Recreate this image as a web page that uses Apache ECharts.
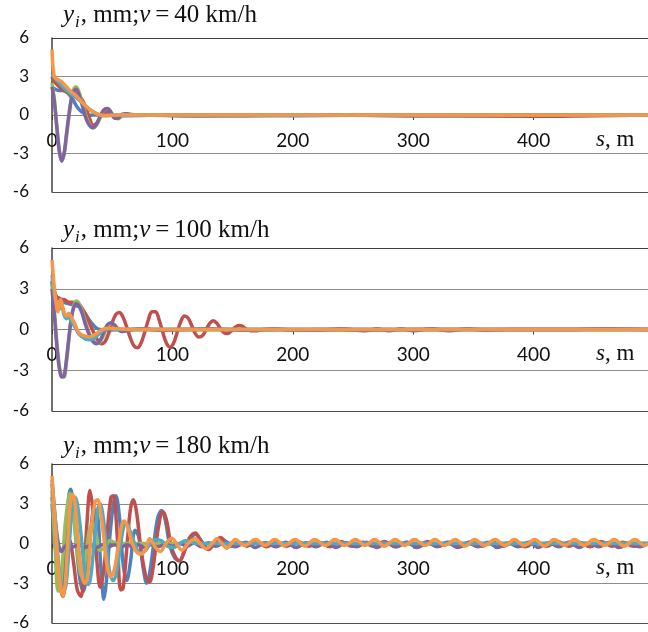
<!DOCTYPE html>
<html>
<head>
<meta charset="utf-8">
<script src="https://cdn.jsdelivr.net/npm/echarts@6/dist/echarts.min.js"></script>
<style>
  html, body { margin: 0; padding: 0; background: #fff; }
  #chart { width: 648px; height: 632px; }
</style>
</head>
<body>
<div id="chart"></div>
<script>
// speeds of the three panels
const speeds = [40, 100, 180];
const yTicks = [-6, -3, 0, 3, 6];

// v = 40 km/h, [s (m), y (mm)]
const blue40 = [[0,2.2],[3,2.0],[6,1.9],[9,1.9],[12,1.8],[15,1.5],[18,1.1],[21,0.6],[24,0.3],[27,0.1],[30,-0.05],[34,0],[40,0],[60,-0.05],[100,0],[200,-0.05],[300,0],[495,0]];
const red40 = [[0,3.0],[2,2.6],[4,2.4],[6,2.2],[8,2.0],[10,1.9],[12,1.8],[14,1.7],[16,1.6],[18,1.7],[20,1.6],[22,1.5],[25,1.2],[28,0.6],[31,-0.2],[34,-0.8],[37,-0.65],[40,-0.2],[43,0.15],[46,0.25],[49,0.1],[52,-0.15],[55,-0.2],[58,-0.05],[62,0.05],[70,0],[120,-0.05],[200,0],[300,-0.05],[400,-0.1],[450,-0.05],[495,0]];
const green40 = [[0,2.5],[2,1.2],[4,-0.8],[6,-2.6],[8,-3.5],[10,-3.1],[12,-1.7],[14,-0.2],[16,1.2],[18,2.0],[20,2.2],[22,1.9],[25,1.0],[28,0],[31,-0.7],[34,-1.0],[37,-0.8],[40,-0.2],[43,0.35],[46,0.5],[49,0.25],[52,-0.2],[55,-0.3],[58,-0.05],[62,0.1],[66,0.05],[75,0],[150,-0.05],[250,0],[495,0]];
const purple40 = [[0,2.2],[2,1.0],[4,-1.0],[6,-2.8],[8,-3.6],[10,-3.0],[12,-1.5],[14,0],[16,1.2],[18,1.8],[20,2.0],[22,1.7],[25,0.8],[28,-0.2],[31,-0.8],[34,-1.0],[37,-0.7],[40,-0.1],[43,0.4],[46,0.5],[49,0.2],[52,-0.25],[55,-0.25],[58,0.05],[62,0.1],[66,0],[80,0],[110,-0.05],[160,-0.05],[220,0],[300,-0.05],[400,0],[495,0]];
const aqua40 = [[0,3.2],[2,2.9],[4,2.7],[6,2.5],[8,2.3],[10,2.1],[12,1.9],[14,1.8],[16,1.6],[18,1.5],[20,1.35],[22,1.2],[25,0.95],[28,0.7],[31,0.45],[34,0.25],[37,0.1],[40,0],[45,-0.05],[55,0],[495,0]];
const orange40 = [[0,5.1],[1,3.5],[2,3.0],[4,2.8],[6,2.7],[8,2.6],[10,2.4],[12,2.2],[14,2.0],[16,1.8],[18,1.65],[20,1.5],[22,1.3],[25,1.0],[28,0.7],[31,0.45],[34,0.25],[37,0.1],[40,0],[45,-0.05],[55,0],[100,0],[495,0]];

// v = 100 km/h
const blue100 = [[0,3.5],[2,2.4],[4,2.2],[6,2.3],[8,2.1],[10,2.0],[14,1.9],[18,1.8],[22,1.7],[25,1.5],[28,1.1],[31,0.7],[34,0.35],[37,0.1],[40,0],[46,-0.05],[60,0],[495,0]];
const red100 = [[0,3.6],[2,2.8],[4,2.4],[6,2.3],[8,2.2],[10,2.2],[12,2.1],[14,2.0],[17,2.0],[20,1.9],[23,1.8],[26,1.4],[29,0.9],[32,0.3],[35,-0.3],[38,-0.8],[41,-1.05],[44,-0.9],[47,-0.3],[50,0.5],[53,1.1],[56,1.25],[59,0.9],[62,0.2],[65,-0.6],[68,-1.2],[71,-1.35],[74,-1.0],[77,-0.2],[80,0.7],[83,1.3],[86,1.3],[89,0.7],[92,-0.2],[95,-1.0],[98,-1.3],[101,-1.0],[104,-0.2],[107,0.6],[110,1.0],[113,0.85],[116,0.3],[119,-0.3],[122,-0.55],[125,-0.45],[128,0],[131,0.45],[134,0.65],[137,0.45],[140,0.05],[143,-0.25],[146,-0.3],[149,-0.1],[152,0.15],[155,0.3],[158,0.25],[161,0.05],[165,-0.1],[170,-0.1],[175,0],[185,0.05],[200,-0.05],[220,0],[260,-0.05],[300,0],[495,0]];
const green100 = [[0,3.3],[2,1.4],[4,-0.9],[6,-2.6],[8,-3.4],[10,-3.5],[12,-2.4],[14,-0.8],[16,0.8],[18,1.7],[20,2.1],[22,2.0],[25,1.4],[28,0.5],[31,-0.3],[34,-0.8],[37,-1.0],[40,-0.9],[43,-0.4],[46,0.2],[49,0.45],[52,0.35],[55,0.05],[58,-0.15],[62,-0.1],[70,0],[495,0]];
const purple100 = [[0,3.0],[2,1.0],[4,-1.2],[6,-2.8],[8,-3.5],[10,-3.4],[12,-2.2],[14,-0.6],[16,0.8],[18,1.6],[20,1.9],[22,1.8],[25,1.2],[28,0.3],[31,-0.4],[34,-0.9],[37,-1.05],[40,-0.8],[43,-0.2],[46,0.35],[49,0.5],[52,0.3],[55,0],[58,-0.15],[62,-0.1],[66,0],[75,0.05],[90,-0.05],[110,0],[130,0.05],[160,-0.05],[190,0],[220,-0.05],[240,0.05],[260,-0.1],[270,0.05],[280,-0.1],[290,0.05],[300,-0.1],[315,0.05],[330,-0.1],[345,0.05],[360,-0.05],[380,0],[420,0],[460,0.05],[495,0]];
const aqua100 = [[0,4.0],[2,2.6],[4,1.8],[6,1.5],[8,1.7],[10,1.1],[12,0.8],[14,0.9],[16,0.6],[19,0.2],[22,-0.3],[25,-0.55],[28,-0.7],[31,-0.75],[34,-0.7],[37,-0.5],[40,-0.25],[43,-0.05],[47,0.05],[55,0],[495,0]];
const orange100 = [[0,5.1],[2,3.0],[4,1.6],[5,1.3],[7,2.2],[8,2.0],[10,1.3],[12,1.0],[14,1.2],[16,0.9],[19,0.4],[22,-0.2],[25,-0.4],[28,-0.5],[31,-0.55],[34,-0.45],[37,-0.3],[40,-0.1],[43,0.05],[47,0.1],[55,0.05],[70,0],[100,0],[495,0]];

// v = 180 km/h
const blue180 = [[0,3.0],[3,-0.5],[6,-3.0],[8,-3.6],[10,-2.0],[12,1.0],[14,3.6],[15.5,4.1],[17,3.3],[20,0.2],[23,-2.6],[26,-3.6],[29,-2.0],[32,0.8],[35,2.6],[38,2.0],[40,-1.0],[42,-3.5],[43,-4.2],[45,-3.0],[48,0.5],[51,3.0],[53,3.6],[56,2.0],[59,-1.5],[62,-2.8],[65,-1.5],[69,1.0],[72,0.5],[76,-2.0],[78.7,-3.0],[81,-2.3],[85,0.3],[88,2.0],[91,2.5],[94,1.8],[98,-0.2],[102,-1.1],[106,-1.3],[110,-0.5],[115,0.3],[119,0.7],[124,0.2],[130,-0.4],[135,0],[141,0.3],[148,0],[160,0],[495,0]];
const red180 = [[0,3.5],[3,0.5],[6,-2.8],[9,-4.0],[12,-2.2],[15,0.2],[18,-1.5],[21,-3.5],[24,-4.0],[27,-1.5],[29,1.5],[31.5,4.0],[34,2.5],[37,-1.0],[40,-3.3],[43,-2.0],[46,1.0],[49,3.5],[51,3.6],[54,0.8],[57,-3.5],[59,-3.4],[62,-0.5],[65,2.5],[67.5,3.3],[70,2.5],[74,-0.5],[78,-2.5],[81,-2.9],[84,-1.8],[88,1.0],[92,2.4],[95,1.8],[99,-0.2],[103,-1.1],[106,-1.3],[110,-0.6],[114,0.4],[119,0.8],[123,0.3],[127,-0.3],[130,-0.45],[134,-0.1],[137,0.3],[140,0.45],[144,0.1],[148,-0.2],[155,0.1],[162,-0.2],[170,0.15],[178,-0.25],[186,0.1],[195,-0.2],[204,0.15],[213,-0.2],[222,0.1],[231,-0.25],[240,0.15],[249,-0.2],[258,0.1],[267,-0.2],[276,0.15],[285,-0.25],[294,0.1],[303,-0.2],[312,0.15],[321,-0.2],[330,0.1],[339,-0.25],[348,0.15],[357,-0.2],[366,0.1],[375,-0.2],[384,0.15],[393,-0.25],[402,0.1],[411,-0.2],[420,0.15],[429,-0.2],[438,0.1],[447,-0.25],[456,0.15],[465,-0.2],[474,0.1],[483,-0.2],[495,0]];
const green180 = [[0,4.0],[2.5,0],[5,-3.6],[7,-3.2],[9,-1.0],[11,1.5],[13.5,3.3],[15,3.8],[17,3.0],[20,0.3],[23,-2.0],[25,-2.5],[28,-1.0],[31,1.0],[34,1.5],[37,0.5],[40,-0.5],[44,-0.3],[48,0.2],[55,0],[495,0]];
const purple180 = [[0,4.5],[2,2.5],[4,0.8],[6,-0.3],[8,-0.6],[10,-0.3],[13,-0.1],[17,-0.25],[22,-0.1],[27,-0.3],[32,-0.15],[37,-0.3],[42,-0.1],[47,-0.25],[52,-0.1],[57,-0.3],[62,-0.1],[67,-0.25],[72,-0.1],[77,-0.3],[82,-0.1],[88,-0.25],[94,-0.05],[100,-0.2],[106,0],[112,-0.2],[118,0.05],[124,-0.25],[130,0.05],[136,-0.2],[144,0.1],[152,-0.25],[161,0.1],[169,-0.3],[177,0.05],[186,-0.25],[194,0.1],[203,-0.3],[211,0.05],[219,-0.25],[228,0.1],[236,-0.3],[244,0.05],[253,-0.25],[261,0.1],[270,-0.3],[278,0.05],[286,-0.25],[295,0.1],[303,-0.3],[312,0.05],[320,-0.25],[328,0.1],[337,-0.3],[345,0.05],[354,-0.25],[362,0.1],[370,-0.3],[379,0.05],[387,-0.25],[396,0.1],[404,-0.3],[412,0.05],[421,-0.25],[429,0.1],[438,-0.3],[446,0.05],[454,-0.25],[463,0.1],[471,-0.3],[480,0.05],[488,-0.25],[495,0]];
const aqua180 = [[0,4.8],[3,1.5],[6,-2.0],[9,-3.6],[11.5,-3.2],[14,-0.5],[16.5,2.4],[19,3.5],[21,3.0],[24,0.8],[27,-2.0],[30,-3.1],[32,-2.6],[35,0],[38,2.6],[40,3.0],[42,2.3],[45,0],[48,-2.2],[51,-2.8],[54,-2.0],[57,0],[60,1.4],[62,1.5],[65,0.9],[69,-0.1],[73,-0.7],[77,-0.6],[81,-0.1],[86,0.3],[91,0.2],[96,-0.2],[101,-0.3],[106,0],[111,0.2],[120,0],[495,0]];
const orange180 = [[0,5.1],[3,1.0],[6,-2.5],[9,-4.0],[11,-3.0],[13,0],[15,2.8],[17,3.7],[19,3.2],[21,1.0],[24,-1.8],[27,-3.0],[29,-2.8],[31,-1.0],[33,1.5],[36,3.2],[38,3.3],[40,2.6],[43,0.5],[46,-1.8],[49,-2.5],[52,-1.9],[55,-0.2],[58,1.4],[60,1.7],[63,1.2],[66,0.2],[70,-0.6],[74,-0.8],[78,-0.4],[81,0.35],[86,-0.3],[90,-0.6],[95,0.05],[99.5,0.4],[104,-0.1],[108,-0.5],[113,0],[119,0.35],[124,-0.1],[128,-0.4],[133,0],[137,0.35],[141,0],[145,-0.35],[149,0],[152,0.3],[160,-0.15],[169,0.3],[177,-0.15],[185,0.3],[193,-0.15],[202,0.3],[210,-0.2],[218,0.3],[227,-0.15],[235,0.3],[243,-0.15],[252,0.3],[260,-0.15],[268,0.3],[276,-0.2],[285,0.3],[293,-0.15],[301,0.3],[310,-0.15],[318,0.3],[326,-0.15],[335,0.3],[343,-0.2],[351,0.3],[359,-0.15],[368,0.3],[376,-0.15],[384,0.3],[392,-0.15],[401,0.3],[409,-0.2],[417,0.3],[426,-0.15],[434,0.3],[442,-0.15],[450,0.3],[459,-0.15],[467,0.3],[475,-0.2],[484,0.3],[492,-0.15],[495,0]];

const colors = ['#4F81BD', '#C0504D', '#9BBB59', '#8064A2', '#4BACC6', '#F79646'];
const panelData = [
  [blue40, red40, green40, purple40, aqua40, orange40],
  [blue100, red100, green100, purple100, aqua100, orange100],
  [blue180, red180, green180, purple180, aqua180, orange180]
];

const grids = [
  { left: 52, right: 0, top: 38, height: 154, containLabel: false, outerBoundsMode: 'none' },
  { left: 52, right: 0, top: 248, height: 163, containLabel: false, outerBoundsMode: 'none' },
  { left: 52, right: 0, top: 464, height: 159, containLabel: false, outerBoundsMode: 'none' }
];
const titleTops = [3, 218, 434];
const unitTops = [128, 342, 556];

const serif = 'Liberation Serif';
const sans = 'Lato';

const chart = echarts.init(document.getElementById('chart'));

// x axis drawn through the middle of each panel (y = 0)
const xAxes = grids.map((g, i) => ({
  gridIndex: i,
  type: 'value',
  position: 'bottom',
  offset: -g.height / 2,
  min: 0,
  max: 495,
  interval: 100,
  axisLine: { onZero: false, lineStyle: { color: '#868686', width: 1 } },
  axisTick: { show: true, length: 5, lineStyle: { color: '#404040' } },
  axisLabel: { fontFamily: sans, fontSize: 19, color: '#111', margin: 16, showMaxLabel: false },
  splitLine: { show: false }
}));

const yAxes = grids.map((g, i) => ({
  gridIndex: i,
  type: 'value',
  min: yTicks[0],
  max: yTicks[yTicks.length - 1],
  interval: 3,
  axisLine: { show: true, onZero: false, lineStyle: { color: '#404040', width: 1.5 } },
  axisTick: { show: false },
  axisLabel: { fontFamily: sans, fontSize: 17, color: '#111', margin: 23 },
  splitLine: { show: true, lineStyle: { color: ['#505050', '#8c8c8c', '#8c8c8c', '#8c8c8c', '#404040'], width: 1 } }
}));

const series = [];
panelData.forEach((list, p) => {
  list.forEach((data, k) => {
    series.push({
      type: 'line',
      xAxisIndex: p,
      yAxisIndex: p,
      data: data,
      showSymbol: false,
      smooth: 0.35,
      lineStyle: { width: 3.5, color: colors[k] },
      itemStyle: { color: colors[k] },
      z: 2 + k
    });
  });
});

const titleRich = {
  it: { fontFamily: serif, fontStyle: 'italic', fontWeight: 'normal', fontSize: 25, color: '#111', padding: [0, 0, 3, 0], verticalAlign: 'bottom' },
  sub: { fontFamily: serif, fontStyle: 'italic', fontWeight: 'normal', fontSize: 17, color: '#111', padding: [0, 1, 0, 1], verticalAlign: 'bottom' },
  rm: { fontFamily: serif, fontWeight: 'normal', fontSize: 25, color: '#111', padding: [0, 0, 3, 0], verticalAlign: 'bottom' },
  eq: { fontFamily: serif, fontWeight: 'normal', fontSize: 25, color: '#111', padding: [0, 5, 3, 5], verticalAlign: 'bottom' }
};

const titles = speeds.map((v, i) => ({
  left: 63,
  top: titleTops[i],
  text: '{it|y}{sub|i}{rm|, mm;}{it|v}{eq|=}{rm|' + v + ' km/h}',
  textStyle: { fontWeight: 'normal', rich: titleRich },
  padding: 0
}));

const unitLabels = unitTops.map(t => ({
  type: 'text',
  left: 596,
  top: t,
  z: 50,
  style: {
    text: '{s|s}{r|, m}',
    rich: {
      s: { fontFamily: serif, fontStyle: 'italic', fontSize: 23, fill: '#111' },
      r: { fontFamily: serif, fontSize: 23, fill: '#111' }
    }
  }
}));

chart.setOption({
  animation: false,
  backgroundColor: '#ffffff',
  title: titles,
  grid: grids,
  xAxis: xAxes,
  yAxis: yAxes,
  series: series,
  graphic: unitLabels
});
</script>
</body>
</html>
